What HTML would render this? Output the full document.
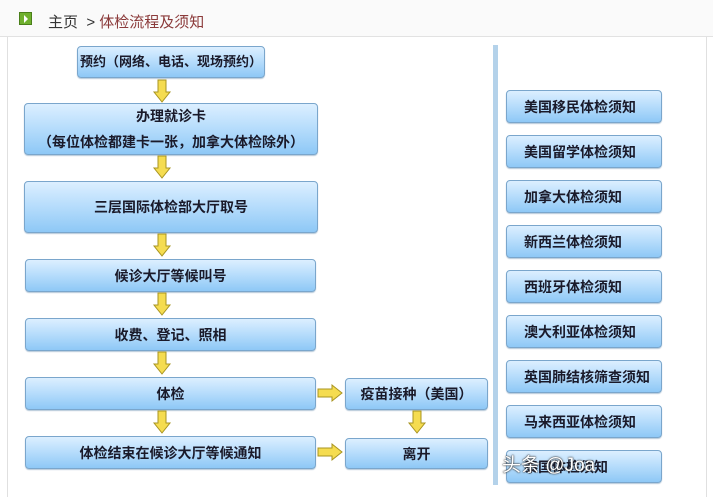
<!DOCTYPE html>
<html><head><meta charset="utf-8"><style>
*{margin:0;padding:0;box-sizing:border-box}
body{width:713px;height:484px;background:#fff;position:relative;overflow:hidden;font-family:"Liberation Sans","Noto Sans CJK SC",sans-serif}
.hdr{position:absolute;left:0;top:0;width:713px;height:37px;background:#fafafa;border-bottom:1px solid #e2e2e2}
.icon{position:absolute;left:19px;top:12px;width:13px;height:13px;background:#6fb02e;border:1px solid #4a7f1a}
.icon:after{content:"";position:absolute;left:4px;top:2px;border-left:4px solid #fff;border-top:4px solid transparent;border-bottom:4px solid transparent}
.crumb{position:absolute;left:48px;top:11px;font-size:15px;color:#333}
.crumb span{color:#8b3a3a}
.panel{position:absolute;left:7px;top:37px;width:700px;height:460px;border-left:1px solid #e0e0e0;border-right:1px solid #e0e0e0}
.sep{position:absolute;left:493px;top:45px;width:5px;height:440px;background:#b4d2ea}
.b{position:absolute;border:1px solid #7aa6cc;border-radius:4px;background:linear-gradient(#dcefff 0%,#b9defc 45%,#8ec8f6 100%);box-shadow:0 1px 1px #b5c8d8;font-weight:bold;font-size:14px;color:#1a1a2a;display:flex;align-items:center;justify-content:center;text-align:center;line-height:26px;white-space:nowrap}
.r{justify-content:flex-start;padding-left:17px}
.wm{position:absolute;left:502px;top:450px;font-size:19px;color:#fff;text-shadow:0 0 2px #333,0 0 1px #000}
</style></head><body>
<div class="hdr"><div class="icon"></div><div class="crumb">主页 &nbsp;&gt; <span>体检流程及须知</span></div></div>
<div class="panel"></div>
<div class="sep"></div>

<div class="b" style="left:77px;top:46px;width:188px;height:32px;font-size:13px">预约（网络、电话、现场预约）</div>
<div class="b" style="left:24px;top:103px;width:294px;height:52px;flex-direction:column">办理就诊卡<br>（每位体检都建卡一张，加拿大体检除外）</div>
<div class="b" style="left:24px;top:181px;width:294px;height:52px">三层国际体检部大厅取号</div>
<div class="b" style="left:25px;top:259px;width:291px;height:33px">候诊大厅等候叫号</div>
<div class="b" style="left:25px;top:318px;width:291px;height:33px">收费、登记、照相</div>
<div class="b" style="left:25px;top:377px;width:291px;height:33px">体检</div>
<div class="b" style="left:25px;top:436px;width:291px;height:33px">体检结束在候诊大厅等候通知</div>
<div class="b" style="left:345px;top:378px;width:143px;height:32px">疫苗接种（美国）</div>
<div class="b" style="left:345px;top:438px;width:143px;height:31px">离开</div>

<div class="b r" style="left:506px;top:90px;width:156px;height:33px">美国移民体检须知</div>
<div class="b r" style="left:506px;top:135px;width:156px;height:33px">美国留学体检须知</div>
<div class="b r" style="left:506px;top:180px;width:156px;height:33px">加拿大体检须知</div>
<div class="b r" style="left:506px;top:225px;width:156px;height:33px">新西兰体检须知</div>
<div class="b r" style="left:506px;top:270px;width:156px;height:33px">西班牙体检须知</div>
<div class="b r" style="left:506px;top:315px;width:156px;height:33px">澳大利亚体检须知</div>
<div class="b r" style="left:506px;top:360px;width:156px;height:33px">英国肺结核筛查须知</div>
<div class="b r" style="left:506px;top:405px;width:156px;height:33px">马来西亚体检须知</div>
<div class="b r" style="left:506px;top:450px;width:156px;height:33px">泰国体检须知</div>

<svg width="713" height="484" style="position:absolute;left:0;top:0">
<defs><g id="d"><path d="M-4,0 H4 V12 H8 L0,22 L-8,12 H-4 Z" fill="#f5dc50" stroke="#a89420" stroke-width="1"/></g>
<g id="rr"><path d="M0,-4 V4 H14 V8 L24,0 L14,-8 V-4 Z" fill="#f5dc50" stroke="#a89420" stroke-width="1"/></g></defs>
<use href="#d" x="162" y="80"/>
<use href="#d" x="162" y="156"/>
<use href="#d" x="162" y="234"/>
<use href="#d" x="162" y="293"/>
<use href="#d" x="162" y="352"/>
<use href="#d" x="162" y="411"/>
<use href="#d" x="417" y="411"/>
<use href="#rr" x="318" y="393"/>
<use href="#rr" x="318" y="452"/>
</svg>
<div class="wm">头条 @Joa</div>
</body></html>
